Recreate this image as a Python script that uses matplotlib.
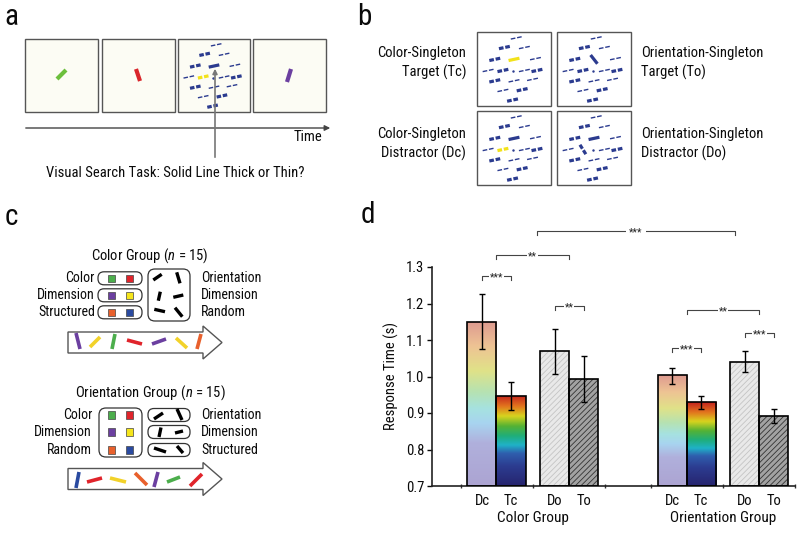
import numpy as np
import matplotlib
matplotlib.use('Agg')
import matplotlib.pyplot as plt
from matplotlib import font_manager
from matplotlib.patches import Rectangle, FancyBboxPatch, Polygon
from matplotlib.colors import LinearSegmentedColormap

# ------------------------------------------------------------------ data (panel d)
groups = ['Color Group', 'Orientation Group']
conditions = ['Dc', 'Tc', 'Do', 'To']
color_rt = [1.150, 0.947, 1.069, 0.993]
color_lo = [1.076, 0.909, 1.008, 0.931]
color_hi = [1.225, 0.986, 1.131, 1.055]
orient_rt = [1.003, 0.930, 1.041, 0.891]
orient_lo = [0.980, 0.911, 1.012, 0.872]
orient_hi = [1.024, 0.946, 1.070, 0.911]
y_ticks = [0.7, 0.8, 0.9, 1.0, 1.1, 1.2, 1.3]
# significance brackets: labels and levels
sig_labels = ['***', '**', '***', '**', '**', '***', '***']
sig_levels = [1.275, 1.333, 1.399, 1.193, 1.182, 1.078, 1.119]

# ------------------------------------------------------------------ fonts
avail = {f.name for f in font_manager.fontManager.ttflist}
FONT = 'DejaVu Sans'
for cand in ['Liberation Sans Narrow', 'Roboto Condensed', 'Roboto', 'Liberation Sans']:
    if cand in avail:
        FONT = cand
        break
plt.rcParams['font.family'] = [FONT, 'DejaVu Sans']
plt.rcParams['mathtext.fontset'] = 'custom'
plt.rcParams['mathtext.rm'] = FONT
plt.rcParams['mathtext.it'] = FONT + ':italic'
plt.rcParams['hatch.linewidth'] = 0.6

fig = plt.figure(figsize=(8, 5.33), dpi=100)
fig.patch.set_facecolor('white')

# overlay axes in pixel coordinates for schematic panels
ov = fig.add_axes([0, 0, 1, 1], zorder=0)
ov.set_xlim(0, 800)
ov.set_ylim(533, 0)
ov.axis('off')
ov.patch.set_alpha(0)

TXT = '#0a0a0a'
BLUE = '#2b3b8f'

def seg(x0, y0, x1, y1, color, lw):
    ov.plot([x0, x1], [y0, y1], color=color, lw=lw, solid_capstyle='butt')

def item(cx, cy, ang, L, lw, color, solid):
    dx, dy = np.cos(np.radians(ang)), -np.sin(np.radians(ang))
    if solid:
        seg(cx - dx * L / 2, cy - dy * L / 2, cx + dx * L / 2, cy + dy * L / 2, color, lw)
    else:
        a = 0.42 * L
        seg(cx - dx * L / 2, cy - dy * L / 2, cx - dx * (L / 2 - a), cy - dy * (L / 2 - a), color, lw)
        seg(cx + dx * (L / 2 - a), cy + dy * (L / 2 - a), cx + dx * L / 2, cy + dy * L / 2, color, lw)

items = [(0.53, 0.08, 'thin'), (0.37, 0.21, 'thick'), (0.64, 0.21, 'thin'),
         (0.24, 0.37, 'thick'), (0.50, 0.37, 'thick'), (0.79, 0.36, 'thin'),
         (0.15, 0.52, 'thin'), (0.35, 0.52, 'thick'), (0.64, 0.52, 'thin'),
         (0.81, 0.52, 'thick'), (0.24, 0.66, 'thick'), (0.50, 0.66, 'thin'),
         (0.75, 0.64, 'thin'), (0.35, 0.79, 'thin'), (0.61, 0.78, 'thick'),
         (0.48, 0.92, 'thick')]

def display(x0, y0, w, h, variant, face='white'):
    ov.add_patch(Rectangle((x0, y0), w, h, facecolor=face, edgecolor='#555555', lw=1.0))
    L = 0.15 * w
    for k, (fx, fy, kind) in enumerate(items):
        cx, cy = x0 + fx * w, y0 + fy * h
        lw = 2.3 if kind == 'thick' else 1.0
        color, solid, ang = BLUE, False, 12
        if k == 4:
            solid = True
            lw = 2.3
            if variant == 'Tc':
                color = '#f2e21a'
            if variant == 'To':
                ang = -52
        if k == 7:
            if variant == 'Dc':
                color = '#f2e21a'
            if variant == 'Do':
                ang = -58
        item(cx, cy, ang, L, lw, color, solid)
    ov.plot([x0 + 0.49 * w], [y0 + 0.53 * h], marker='.', ms=1.5, color=BLUE)

# ------------------------------------------------------------------ panel a
ov.text(4, 17, 'a', fontsize=21, va='center', ha='left', color=TXT)
frames = [(25, 39, 'green'), (102, 39, 'red'), (178, 39, 'search'), (253, 39, 'purple')]
for x0, y0, kind in frames:
    if kind == 'search':
        display(x0, y0, 72, 73, 'Dc', face='#fcfcf4')
    else:
        ov.add_patch(Rectangle((x0, y0), 73, 73, facecolor='#fcfcf4', edgecolor='#555555', lw=1.0))
seg(57, 79, 66, 70, '#6cbf3c', 3)
seg(136, 69, 140, 81, '#d9262b', 3)
seg(287, 82, 291, 69, '#6b3fa0', 3)
ov.annotate('', xy=(333, 128), xytext=(23, 128),
            arrowprops=dict(arrowstyle='-|>', color='#444444', lw=1.0, mutation_scale=8))
ov.text(322, 137, 'Time', fontsize=10.5, ha='right', va='center', color=TXT)
ov.annotate('', xy=(215, 66), xytext=(215, 160),
            arrowprops=dict(arrowstyle='-|>', color='#777777', lw=1.2, mutation_scale=7))
ov.text(175, 173, 'Visual Search Task: Solid Line Thick or Thin?', fontsize=10.5,
        ha='center', va='center', color=TXT)

# ------------------------------------------------------------------ panel b
ov.text(357, 17, 'b', fontsize=21, va='center', ha='left', color=TXT)
display(477, 32, 74, 74, 'Tc')
display(557, 32, 74, 74, 'To')
display(477, 111, 74, 74, 'Dc')
display(557, 111, 74, 74, 'Do')
ov.text(466, 63, 'Color-Singleton\nTarget (Tc)', fontsize=10.5, ha='right', va='center',
        linespacing=1.35, color=TXT)
ov.text(466, 144, 'Color-Singleton\nDistractor (Dc)', fontsize=10.5, ha='right', va='center',
        linespacing=1.35, color=TXT)
ov.text(641, 63, 'Orientation-Singleton\nTarget (To)', fontsize=10.5, ha='left', va='center',
        linespacing=1.35, color=TXT)
ov.text(641, 144, 'Orientation-Singleton\nDistractor (Do)', fontsize=10.5, ha='left', va='center',
        linespacing=1.35, color=TXT)

# ------------------------------------------------------------------ panel c
ov.text(5, 217, 'c', fontsize=21, va='center', ha='left', color=TXT)
sq_cols = [['#4cae4c', '#e0242b'], ['#6b3fa0', '#f5e51b'], ['#e8602c', '#2a4aa0']]

def rbox(x0, y0, x1, y1, r=6):
    ov.add_patch(FancyBboxPatch((x0, y0), x1 - x0, y1 - y0,
                                boxstyle='round,pad=0,rounding_size=%g' % r,
                                facecolor='white', edgecolor='#333333', lw=0.9))

def squares(ys):
    for y, pair in zip(ys, sq_cols):
        for x, c in zip([111.5, 129.5], pair):
            ov.add_patch(Rectangle((x - 3.6, y - 3.6), 7.2, 7.2, facecolor=c,
                                   edgecolor='#444444', lw=0.5))

def arrow(ymid, half=10.5, headhalf=16.5):
    pts = [(68, ymid - half), (203, ymid - half), (203, ymid - headhalf), (222, ymid),
           (203, ymid + headhalf), (203, ymid + half), (68, ymid + half)]
    ov.add_patch(Polygon(pts, closed=True, facecolor='white', edgecolor='#555555', lw=1.0))

# color group
ov.text(150, 256, 'Color Group ($n$ = 15)', fontsize=10.5, ha='center', va='center', color=TXT)
ys1 = [278.3, 295.3, 312.3]
for y in ys1:
    rbox(98, y - 6.5, 142, y + 6.5, r=6)
squares(ys1)
rbox(148, 269, 190, 321, r=7)
for (x0, y0, x1, y1) in [(153.3, 280, 161.7, 274.3), (176.7, 272.3, 180, 283.3),
                         (158.3, 300.7, 160.3, 291.7), (173.3, 297.3, 183.3, 295),
                         (154.3, 309.3, 165, 311.7), (175, 307.7, 182.3, 316.7)]:
    seg(x0, y0, x1, y1, 'black', 2.4)
for t, y in zip(['Color', 'Dimension', 'Structured'], ys1):
    ov.text(95, y, t, fontsize=10, ha='right', va='center', color=TXT)
for t, y in zip(['Orientation', 'Dimension', 'Random'], ys1):
    ov.text(201, y, t, fontsize=10, ha='left', va='center', color=TXT)
arrow(342.5)
for (x0, y0, x1, y1, c) in [(76, 333, 80, 349, '#6b3fa0'), (90, 347, 100, 337, '#f2d22a'),
                            (112, 349, 115, 334, '#4cae4c'), (127, 340, 142, 344, '#e0242b'),
                            (152, 344, 166, 339, '#6b3fa0'), (176, 338, 187, 348, '#f2d22a'),
                            (197, 349, 201, 334, '#e8602c')]:
    seg(x0, y0, x1, y1, c, 2.6)

# orientation group
ov.text(150, 393, 'Orientation Group ($n$ = 15)', fontsize=10.5, ha='center', va='center', color=TXT)
ys2 = [415, 432, 450]
rbox(99, 408, 142, 457, r=7)
squares(ys2)
for y in ys2:
    rbox(148, y - 6.5, 190, y + 6.5, r=6)
for (x0, y0, x1, y1) in [(154, 419, 163, 413), (177, 409, 182, 420),
                         (159, 437, 161, 427.5), (175, 433, 183, 431),
                         (154, 448, 166, 452), (177, 446, 183, 453)]:
    seg(x0, y0, x1, y1, 'black', 2.4)
for t, y in zip(['Color', 'Dimension', 'Random'], ys2):
    ov.text(92, y, t, fontsize=10, ha='right', va='center', color=TXT)
for t, y in zip(['Orientation', 'Dimension', 'Structured'], ys2):
    ov.text(201, y, t, fontsize=10, ha='left', va='center', color=TXT)
arrow(479)
for (x0, y0, x1, y1, c) in [(76, 488, 79, 472, '#2a4aa0'), (87, 482, 102, 478, '#e0242b'),
                            (110, 478, 126, 482, '#f2d22a'), (135, 473, 147, 485, '#e8602c'),
                            (154, 487, 158, 472, '#6b3fa0'), (167, 482, 180, 477, '#4cae4c'),
                            (190, 486, 202, 474, '#e0242b')]:
    seg(x0, y0, x1, y1, c, 2.6)

# ------------------------------------------------------------------ panel d
ov.text(361, 215, 'd', fontsize=21, va='center', ha='left', color=TXT)
ax = fig.add_axes([432 / 800, 47 / 533, 363 / 800, 219 / 533], zorder=2)
ax.patch.set_alpha(0)
x_pos = [0, 1, 2.5, 3.5, 6.55, 7.55, 9.05, 10.05]
rt = color_rt + orient_rt
lo = color_lo + orient_lo
hi = color_hi + orient_hi
labels = conditions + conditions
W = 1.0
BASE = 0.7

pastel = LinearSegmentedColormap.from_list('pastel', [
    (0.00, '#aca4d2'), (0.26, '#b0b0dc'), (0.38, '#a8d4f0'), (0.47, '#a6e2e0'),
    (0.57, '#b6e2b2'), (0.70, '#e0e288'), (0.85, '#eec394'), (1.00, '#de9a90')])
vivid = LinearSegmentedColormap.from_list('vivid', [
    (0.00, '#26246e'), (0.22, '#2c3c90'), (0.36, '#2f5fae'), (0.45, '#1fb2c8'),
    (0.55, '#1fae7a'), (0.66, '#55b234'), (0.77, '#d8d41e'), (0.88, '#e2741e'),
    (1.00, '#c3221e')])

heights = [v - BASE for v in rt]
for i, (x, h, lab) in enumerate(zip(x_pos, heights, labels)):
    if lab in ('Dc', 'Tc'):
        b = ax.bar(x, h, width=W, bottom=BASE, facecolor='none', edgecolor='black', lw=1.2, zorder=3)[0]
        cmap = pastel if lab == 'Dc' else vivid
        grad = np.linspace(0, 1, 256).reshape(-1, 1)
        im = ax.imshow(grad, cmap=cmap, origin='lower', aspect='auto', interpolation='bicubic',
                       extent=[b.get_x(), b.get_x() + b.get_width(), b.get_y(), b.get_y() + b.get_height()],
                       zorder=2)
        im.set_clip_path(b)
    else:
        face, hc = ('#e9e9e9', '#c4c4c4') if lab == 'Do' else ('#a2a2a2', '#333333')
        ax.bar(x, h, width=W, bottom=BASE, facecolor=face, edgecolor=hc, lw=0,
               hatch='//////', zorder=2)
        ax.bar(x, h, width=W, bottom=BASE, facecolor='none', edgecolor='black', lw=1.2, zorder=3)

err = [np.array(rt) - np.array(lo), np.array(hi) - np.array(rt)]
ax.errorbar(x_pos, rt, yerr=err, fmt='none', ecolor='black', elinewidth=1.0,
            capsize=2.2, capthick=1.0, zorder=4)

ax.set_xlim(-1.72, 10.78)
ax.set_ylim(0.7, 1.3)
ax.set_yticks(y_ticks)
ax.set_yticklabels(['%.1f' % v for v in y_ticks])
ax.set_xticks(x_pos)
ax.set_xticklabels(labels)
ax.set_xticks([-0.73, 1.76, 4.25, 5.83, 8.29, 10.77], minor=True)
ax.tick_params(axis='x', which='major', length=0, pad=6, labelsize=10.5, colors=TXT)
ax.tick_params(axis='x', which='minor', length=3.5, width=1.0, direction='inout', color='#333333')
ax.tick_params(axis='y', length=3.5, width=1.0, direction='out', labelsize=10.5, pad=2, colors=TXT)
for s in ['top', 'right']:
    ax.spines[s].set_visible(False)
for s in ['left', 'bottom']:
    ax.spines[s].set_linewidth(1.2)
    ax.spines[s].set_color('#222222')
ax.set_ylabel('Response Time (s)', fontsize=10.5, labelpad=5, color=TXT)

trans = ax.get_xaxis_transform()
for g, xs in zip(groups, [x_pos[:4], x_pos[4:]]):
    ax.text(np.mean(xs), -0.145, g, transform=trans, ha='center', va='center',
            fontsize=11, color=TXT)

# significance brackets
sig_x = [(x_pos[0], x_pos[1]),
         (np.mean(x_pos[0:2]), np.mean(x_pos[2:4])),
         (1.9, 8.7),
         (x_pos[2], x_pos[3]),
         (np.mean(x_pos[4:6]), np.mean(x_pos[6:8])),
         (x_pos[4], x_pos[5]),
         (x_pos[6], x_pos[7])]
for (xa, xb), lvl, lab in zip(sig_x, sig_levels, sig_labels):
    ax.plot([xa, xa, xb, xb], [lvl - 0.011, lvl, lvl, lvl - 0.011], color='#444444', lw=0.8,
            clip_on=False, zorder=5)
    pad = 2.5 if (xb - xa) > 3 else 0.6
    ax.text((xa + xb) / 2, lvl - 0.004, lab, ha='center', va='center', fontsize=7.5,
            color='#222222', clip_on=False, zorder=6,
            bbox=dict(facecolor='white', edgecolor='none', pad=pad))

fig.savefig('out.png', dpi=100, facecolor='white')
